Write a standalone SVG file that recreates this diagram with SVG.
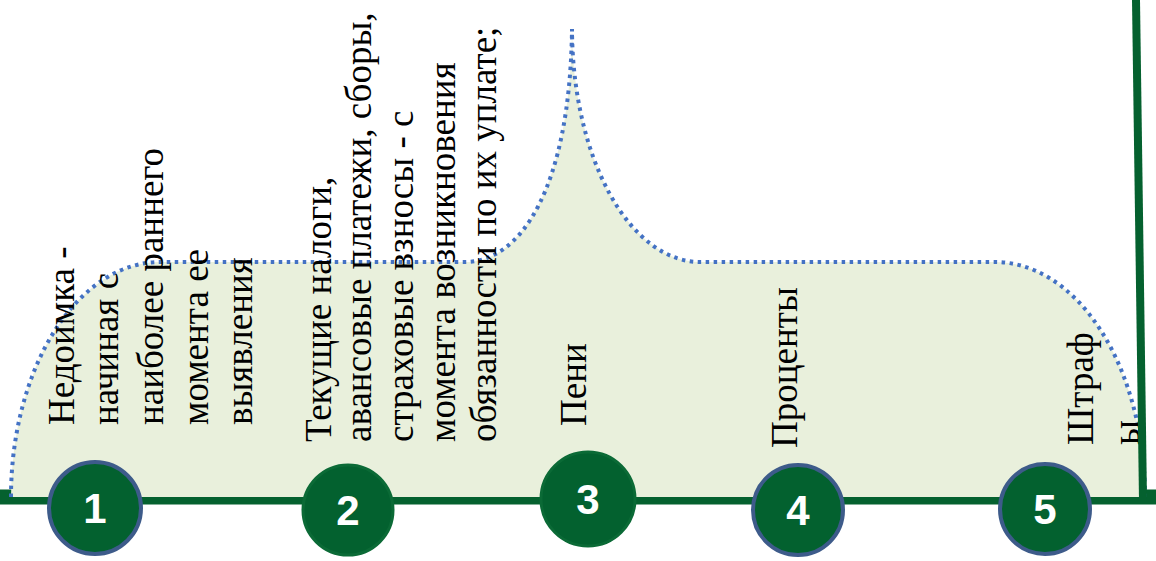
<svg xmlns="http://www.w3.org/2000/svg" xml:lang="ru" width="1156" height="561" viewBox="0 0 1156 561">
<defs>
<style>
.cb{fill:#03612f;stroke:#3d5b8a;stroke-width:4}
.cg{fill:#03612f;stroke:#0b6a36;stroke-width:3}
.gl{stroke:#05612f;fill:none}
</style>
</defs>
<rect width="1156" height="561" fill="#fff"/>
<g id="connectors">
<line class="gl" x1="0" y1="497" x2="1156" y2="497" stroke-width="15"/>
</g>
<g id="shape">
<path d="M11 497 A149 235 0 0 1 160 262 L465 262 C520 262 570 190 572 29 A128 234 0 0 0 700 262 L995 262 A150 235 0 0 1 1145 497 Z" fill="#e9f0dc"/>
<path d="M11 497 A149 235 0 0 1 160 262 L465 262 C520 262 570 190 572 29 A128 234 0 0 0 700 262 L995 262 A150 235 0 0 1 1145 497" fill="none" stroke="#4472c4" stroke-width="4" stroke-dasharray="3.5 4.5"/>
</g>
<g id="labels" style="font-family:'Liberation Serif','Times New Roman',Tinos,serif;font-size:37px" fill="#000">
<g id="text1">
<text style="font-family:'Liberation Serif',serif" transform="translate(74,425) rotate(-90)">Недоимка -</text>
<text style="font-family:'Liberation Serif',serif" transform="translate(118,425) rotate(-90)">начиная с</text>
<text style="font-family:'Liberation Serif',serif" transform="translate(163,425) rotate(-90)">наиболее раннего</text>
<text style="font-family:'Liberation Serif',serif" transform="translate(208,425) rotate(-90)">момента ее</text>
<text style="font-family:'Liberation Serif',serif" transform="translate(252,425) rotate(-90)">выявления</text>
</g>
<g id="text2">
<text style="font-family:'Liberation Serif',serif" transform="translate(331,442) rotate(-90)">Текущие налоги,</text>
<text style="font-family:'Liberation Serif',serif" transform="translate(371,442) rotate(-90)">авансовые платежи, сборы,</text>
<text style="font-family:'Liberation Serif',serif" transform="translate(413,442) rotate(-90)">страховые взносы - с</text>
<text style="font-family:'Liberation Serif',serif" transform="translate(455,442) rotate(-90)">момента возникновения</text>
<text style="font-family:'Liberation Serif',serif" transform="translate(496,442) rotate(-90)">обязанности по их уплате;</text>
</g>
<g id="text3">
<text style="font-family:'Liberation Serif',serif" transform="translate(586,426) rotate(-90)">Пени</text>
</g>
<g id="text4">
<text style="font-family:'Liberation Serif',serif" transform="translate(797,448) rotate(-90)">Проценты</text>
</g>
<g id="text5">
<text style="font-family:'Liberation Serif',serif" transform="translate(1093,445) rotate(-90)">Штраф</text>
<text style="font-family:'Liberation Serif',serif" transform="translate(1139,445) rotate(-90)">ы</text>
</g>
</g>
<g id="frame">
<line class="gl" x1="1136" y1="0" x2="1143" y2="500" stroke-width="8"/>
</g>
<g font-family="Liberation Sans, Arial, sans-serif" font-size="42" font-weight="bold" fill="#fff" text-anchor="middle">
<g id="node1"><circle class="cb" cx="95" cy="508" r="46"/><text x="95" y="523">1</text></g>
<g id="node2"><circle class="cg" cx="348" cy="510" r="45"/><text x="348" y="525">2</text></g>
<g id="node3"><circle class="cg" cx="588" cy="499" r="47"/><text x="588" y="514">3</text></g>
<g id="node4"><circle class="cb" cx="798" cy="510" r="45"/><text x="798" y="525">4</text></g>
<g id="node5"><circle class="cb" cx="1045" cy="509" r="45"/><text x="1045" y="524">5</text></g>
</g>
</svg>
